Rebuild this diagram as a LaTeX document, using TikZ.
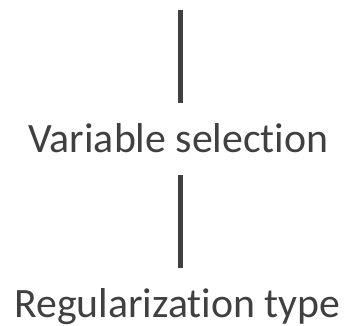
\documentclass[tikz,border=0pt]{standalone}
\usepackage{fontspec}
\setmainfont[Ligatures={NoCommon}]{Carlito}
\definecolor{ink}{HTML}{404040}
\begin{document}
\begin{tikzpicture}[x=1pt,y=-1pt,
  bar/.style={draw=ink,line width=5pt},
  label/.style={text=ink,font=\fontsize{41.8}{42}\selectfont,inner sep=0pt,anchor=base}]
\useasboundingbox (0,0) rectangle (352,325);
\coordinate (t1) at (180,10);
\coordinate (b1) at (180,103);
\node[label] (vs) at (178.5,152) {Variable selection};
\coordinate (t2) at (180,175);
\coordinate (b2) at (180,268);
\node[label] (rt) at (177.5,317) {Regularization type};
\draw[bar] (t1) -- (b1);
\draw[bar] (t2) -- (b2);
\end{tikzpicture}
\end{document}
